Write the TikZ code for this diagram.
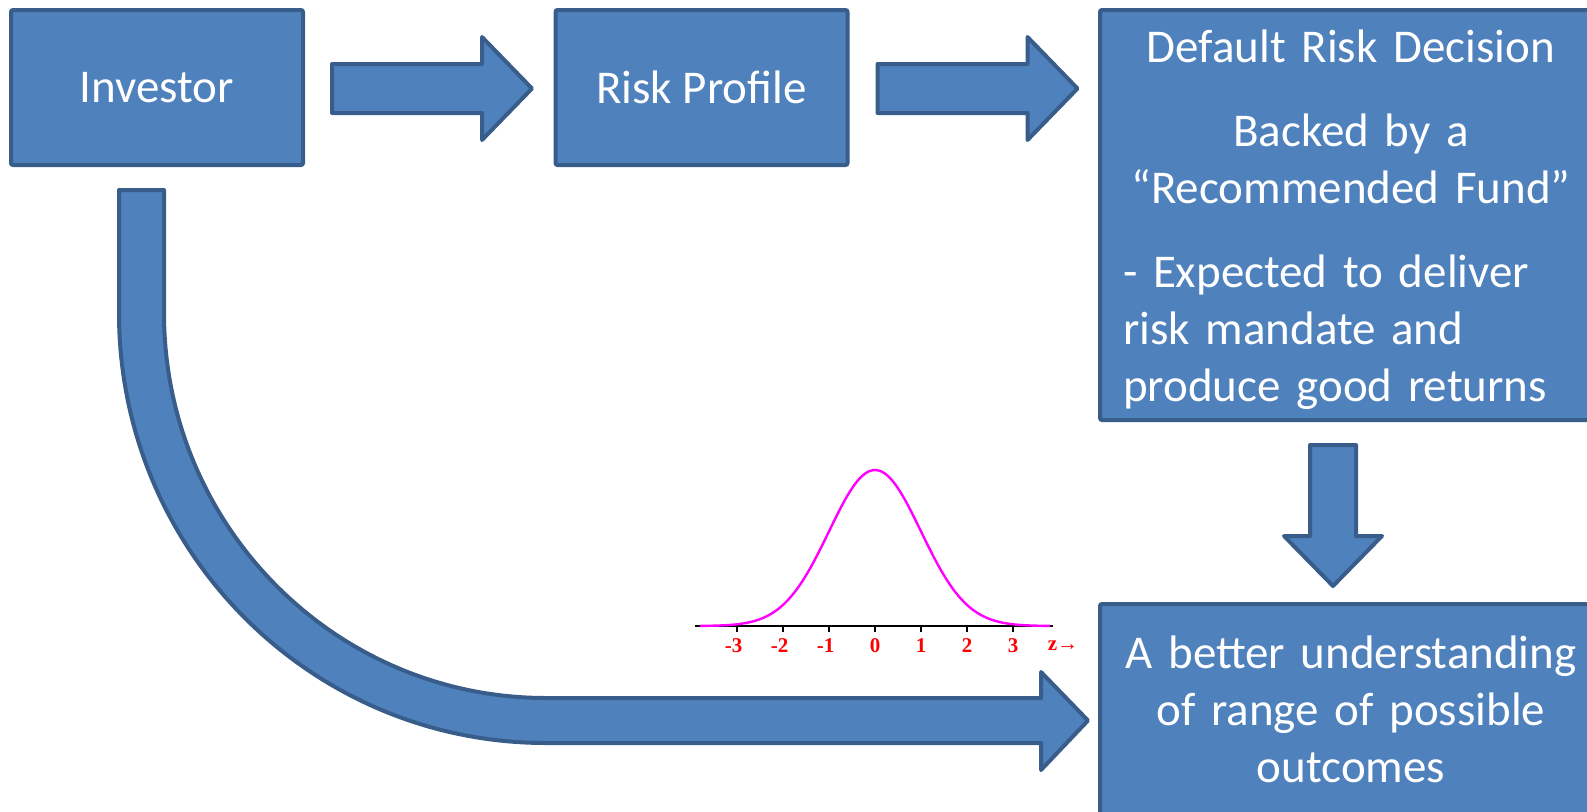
\documentclass[tikz,border=0pt]{standalone}
\usepackage{fontspec}
\setmainfont{Carlito}
\newfontfamily\axisfont{Liberation Serif}
\definecolor{boxfill}{HTML}{4F81BD}
\definecolor{boxline}{HTML}{385D8A}
\definecolor{bell}{HTML}{FF00FF}
\definecolor{ticklabel}{HTML}{FF0000}
\usepackage{tikz}
\usetikzlibrary{positioning}
\tikzstyle{base}=[x=0.5pt, y=-0.5pt]
\tikzstyle{box}=[draw=boxline, fill=boxfill, line width=2pt, rounded corners=1pt, text=white, inner sep=0pt]
\tikzstyle{smallbox}=[box, minimum width=146pt, minimum height=77.5pt]
\tikzstyle{bigbox}=[box, text width=228pt, inner xsep=11.5pt]
\tikzstyle{flow}=[draw=boxline, fill=boxfill, line width=2pt, line join=round]
\tikzstyle{axislabel}=[text=ticklabel, font=\axisfont\bfseries\fontsize{10.5}{12}\selectfont, inner sep=0pt]

% block arrows: start coordinate
\newcommand{\flowright}[1]{\draw[flow] (#1) ++(0,-24.5) -- ++(150,0) -- ++(0,-27) -- ++(50,51.5) -- ++(-50,51.5) -- ++(0,-27) -- ++(-150,0) -- cycle;}
\newcommand{\flowdown}[1]{\draw[flow] (#1) ++(-23,0) -- ++(0,91) -- ++(-26,0) -- ++(49,50) -- ++(49,-50) -- ++(-26,0) -- ++(0,-91) -- cycle;}

\begin{document}
\begin{tikzpicture}[base]
    \useasboundingbox (0,0) rectangle (1587,811);
    \clip (0,0) rectangle (1587,811);
    \fontsize{23.5}{28.5}\selectfont
        \node [smallbox] (investor) at (157,87.5) {Investor};
        \node [smallbox] (profile) at (701.5,87.5) {Risk Profile};
        \node [bigbox, minimum height=205pt] (decision) at (1351,215) {%
            {\centering\rule{0pt}{21pt}Default Risk Decision\par}\vspace{13.5pt}
            {\centering Backed by a\\ “Recommended Fund”\par}\vspace{13.5pt}
            - Expected to deliver\\ risk mandate and\\ produce good returns};
        \node [bigbox, align=center, minimum height=105.5pt, anchor=north] (outcome) at (1351,602)
            {A better understanding\\ of range of possible\\ outcomes};
        % arrows between boxes
        \coordinate (a1) at ([xshift=13.5pt,yshift=-0.5pt]investor.east);
        \coordinate (a2) at ([xshift=14pt,yshift=-0.5pt]profile.east);
        \coordinate (a3) at ([xshift=-9pt,yshift=-11.5pt]decision.south);
        \flowright{a1}
        \flowright{a2}
        \flowdown{a3}
        % curved arrow from investor
        \draw [flow] (119,190) -- (119,313) .. controls (119,550.5) and (310,743) .. (546,743)
            -- (1041,743) -- (1041,770) -- (1088,720.5) -- (1041,672) -- (1041,698) -- (546,698)
            .. controls (335,698) and (164,525.6) .. (164,313) -- (164,190) -- cycle;
        % normal curve
        \draw [black, line width=1.2pt] (695,626) -- (1053,626);
        \foreach \k in {-3,...,3}
            \draw [black, line width=1pt] (875+46*\k,626) -- (875+46*\k,632);
        \draw [bell, line width=1.2pt] plot [domain=-3.8:3.8, samples=90, smooth] ({875+46*\x},{626-156*exp(-\x*\x/2)});
        \node [axislabel] (z0) at (875,646) {0};
        \foreach \k in {1,2,3} {
            \node [axislabel] (zp\k) at (875+46*\k,646) {\k};
            \node [axislabel] (zm\k) at (875-46*\k,646) {\llap{-}\k};
        }
        \node [axislabel] (zname) at (1063,646) {z→};
\end{tikzpicture}
\end{document}
